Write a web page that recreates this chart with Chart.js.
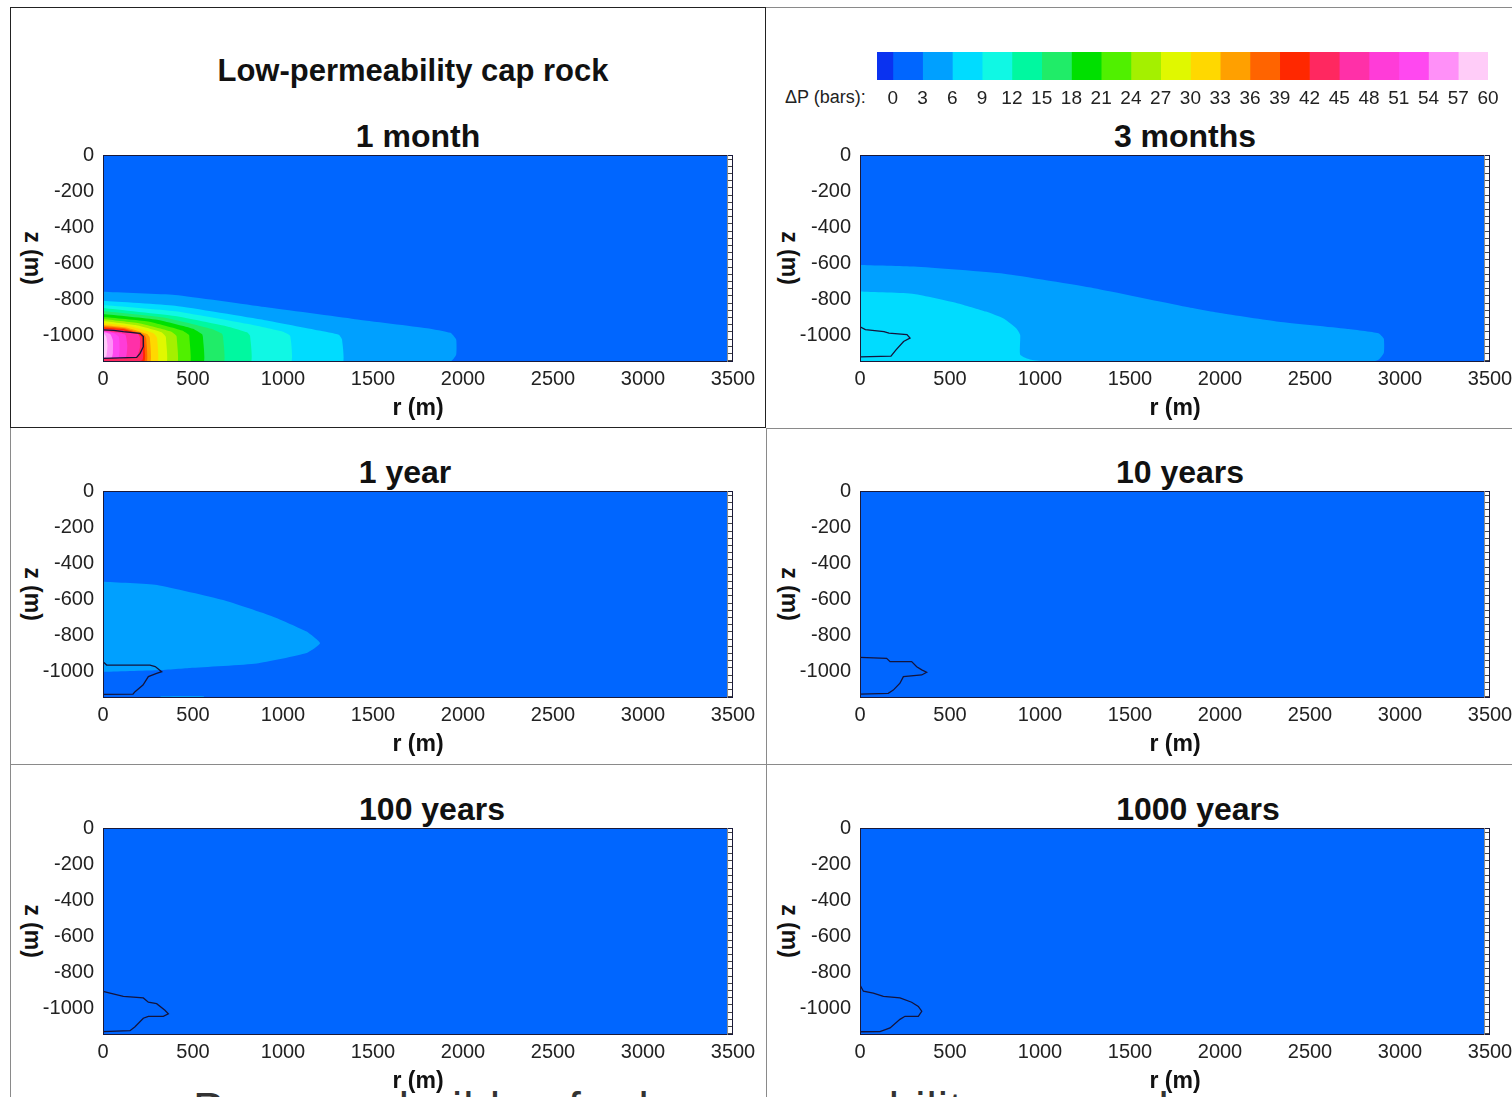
<!DOCTYPE html>
<html><head><meta charset="utf-8">
<script src="https://cdn.jsdelivr.net/npm/chart.js@4.4.1/dist/chart.umd.min.js"></script>
<style>
html,body{margin:0;padding:0;background:#fff;}
body{width:1512px;height:1097px;position:relative;overflow:hidden;font-family:'Liberation Sans',Arial,sans-serif;}
canvas{position:absolute;}
.ln{position:absolute;background:#8a8a8a;}
.title{position:absolute;font-weight:bold;font-size:32px;line-height:32px;color:#111;white-space:nowrap;transform:translateX(-50%);}
.zlab{position:absolute;font-weight:bold;font-size:23px;line-height:23px;color:#111;white-space:nowrap;transform:translate(-50%,-50%) rotate(90deg);}
.cblab{position:absolute;font-size:18px;line-height:20px;color:#222;white-space:nowrap;}
.caption{position:absolute;font-size:46px;line-height:46px;color:#333;white-space:nowrap;letter-spacing:1px;}
</style></head>
<body>
<div class="caption" style="left:193px;top:1086px;">Pressure buildup for low-permeability cap rock</div>

<div style="position:absolute;left:10px;top:7px;width:756px;height:421px;border:1.5px solid #222;box-sizing:border-box;"></div>
<div class="ln" style="left:766px;top:7px;width:746px;height:1px;"></div>
<div class="ln" style="left:766px;top:428px;width:746px;height:1px;"></div>
<div class="ln" style="left:10px;top:764px;width:1502px;height:1px;"></div>
<div class="ln" style="left:766px;top:428px;width:1px;height:669px;"></div>
<div class="ln" style="left:10px;top:428px;width:1px;height:669px;"></div>

<div class="title" style="left:413px;top:55px;font-size:31px;">Low-permeability cap rock</div>
<div class="cblab" style="left:785px;top:87px;">ΔP (bars):</div>

<div class="title" style="left:418px;top:120px;">1 month</div>
<div class="title" style="left:1185px;top:120px;">3 months</div>
<div class="title" style="left:405px;top:456px;">1 year</div>
<div class="title" style="left:1180px;top:456px;">10 years</div>
<div class="title" style="left:432px;top:793px;">100 years</div>
<div class="title" style="left:1198px;top:793px;">1000 years</div>

<div class="zlab" style="left:32px;top:258px;">z (m)</div>
<div class="zlab" style="left:789px;top:258px;">z (m)</div>
<div class="zlab" style="left:32px;top:594px;">z (m)</div>
<div class="zlab" style="left:789px;top:594px;">z (m)</div>
<div class="zlab" style="left:32px;top:931px;">z (m)</div>
<div class="zlab" style="left:789px;top:931px;">z (m)</div>

<canvas id="cb" width="650" height="65" style="left:860px;top:45px;"></canvas>
<canvas id="p1" width="751" height="288" style="left:12px;top:134px;"></canvas>
<canvas id="p2" width="751" height="288" style="left:769px;top:134px;"></canvas>
<canvas id="p3" width="751" height="288" style="left:12px;top:470px;"></canvas>
<canvas id="p4" width="751" height="288" style="left:769px;top:470px;"></canvas>
<canvas id="p5" width="751" height="288" style="left:12px;top:807px;"></canvas>
<canvas id="p6" width="751" height="288" style="left:769px;top:807px;"></canvas>

<script>
// ---------- DATA ----------
const rTicks = [0, 500, 1000, 1500, 2000, 2500, 3000, 3500];
const zTicks = [0, -200, -400, -600, -800, -1000];
const colorbarTicks = [0,3,6,9,12,15,18,21,24,27,30,33,36,39,42,45,48,51,54,57,60];
const colorbarEdges = [-1.6,0,3,6,9,12,15,18,21,24,27,30,33,36,39,42,45,48,51,54,57,60];
const colorbarColors = ['#0a32f0','#0066ff','#00a0ff','#00dcff','#10f8e4','#00f8a0','#20ec68','#00e000',
  '#50f000','#a4f000','#e0f800','#ffd800','#ffa000','#ff6400','#ff2800','#ff2860','#ff30a8',
  '#ff3cd8','#ff48f0','#ff90f8','#ffccf8'];

// pressure contour levels (bars) and region boundaries [r (m), z (m)] for each time
const month1Levels = [3,6,9,12,15,18,21,24,27,30,33,36,39,42,45,48,51,54,57];
const month1Contours = [
  [[0,-760],[400,-778],[900,-845],[1400,-912],[1800,-962],[1930,-988],[1962,-1025],[1962,-1110],[1935,-1145],[1850,-1160],[0,-1160]],
  [[0,-810],[400,-838],[900,-918],[1200,-975],[1310,-998],[1328,-1025],[1328,-1160],[0,-1160]],
  [[0,-833],[400,-868],[800,-938],[1000,-982],[1040,-1005],[1040,-1160],[0,-1160]],
  [[0,-850],[400,-895],[700,-955],[800,-985],[817,-1005],[817,-1160],[0,-1160]],
  [[0,-867],[350,-905],[600,-965],[660,-992],[667,-1010],[667,-1160],[0,-1160]],
  [[0,-883],[300,-915],[500,-965],[550,-995],[555,-1010],[555,-1160],[0,-1160]],
  [[0,-900],[250,-925],[440,-975],[478,-1000],[480,-1015],[480,-1160],[0,-1160]],
  [[0,-911],[200,-935],[380,-982],[408,-1005],[410,-1020],[410,-1160],[0,-1160]],
  [[0,-922],[180,-945],[325,-985],[348,-1008],[350,-1020],[350,-1160],[0,-1160]],
  [[0,-933],[150,-952],[280,-990],[300,-1015],[300,-1160],[0,-1160]],
  [[0,-944],[130,-958],[245,-995],[260,-1015],[260,-1160],[0,-1160]],
  [[0,-952],[120,-963],[230,-1000],[240,-1020],[240,-1160],[0,-1160]],
  [[0,-958],[110,-967],[218,-1000],[228,-1020],[228,-1150],[0,-1160]],
  [[0,-965],[100,-972],[210,-1003],[218,-1025],[218,-1140],[0,-1160]],
  [[0,-975],[100,-985],[195,-995],[205,-1015],[205,-1070],[195,-1105],[180,-1127],[0,-1127]],
  [[0,-978],[80,-988],[125,-1000],[135,-1060],[125,-1127],[0,-1127]],
  [[0,-980],[60,-990],[88,-1010],[92,-1080],[85,-1127],[0,-1127]],
  [[0,-982],[40,-995],[55,-1030],[55,-1100],[48,-1127],[0,-1127]],
  [[0,-985],[18,-1010],[25,-1060],[18,-1120],[0,-1127]]
];
const month1Plume = [[0,-972],[60,-974],[113,-981],[206,-991],[224,-1009],[224,-1065],[206,-1102],[187,-1124],[0,-1130]];

const month3Levels = [3,6];
const month3Contours = [
  [[0,-611],[300,-620],[800,-660],[1300,-740],[1810,-843],[2000,-878],[2325,-926],[2700,-965],[2880,-990],[2910,-1020],[2910,-1100],[2880,-1138],[2800,-1160],[0,-1160]],
  [[0,-759],[300,-772],[540,-823],[700,-870],[800,-910],[870,-965],[890,-1000],[890,-1110],[950,-1138],[1155,-1160],[0,-1160]]
];
const month3Plume = [[0,-954],[30,-970],[133,-981],[161,-990],[261,-998],[278,-1017],[242,-1036],[200,-1083],[172,-1117],[0,-1122]];

const year1Levels = [3,3];
const year1Contours = [
  [[0,-504],[300,-522],[667,-606],[945,-698],[1131,-781],[1206,-846],[1131,-900],[854,-958],[483,-983],[298,-996],[0,-1005]],
  [[320,-1140],[560,-1140],[560,-1160],[320,-1160]]
];
const year1Plume = [[0,-948],[20,-967],[261,-967],[290,-975],[326,-1004],[298,-1013],[252,-1031],[222,-1078],[178,-1115],[167,-1128],[0,-1130]];

const year10Plume = [[0,-924],[148,-930],[167,-948],[287,-948],[315,-976],[343,-994],[370,-1007],[343,-1022],[241,-1031],[222,-1068],[185,-1106],[157,-1124],[0,-1128]];
const year100Plume = [[0,-907],[39,-917],[113,-935],[224,-944],[252,-968],[298,-976],[344,-1013],[363,-1032],[335,-1046],[252,-1046],[224,-1057],[178,-1104],[150,-1126],[0,-1131]];
const year1000Plume = [[0,-872],[19,-907],[74,-917],[130,-935],[222,-944],[287,-968],[324,-991],[343,-1018],[324,-1046],[250,-1046],[222,-1063],[167,-1111],[111,-1131],[0,-1132]];

const meshStrip = [3467, 3500];
// ---------- END DATA ----------

const tickFont = "'Liberation Sans',Arial,sans-serif";
const bgColor = colorbarColors[1];
function levelColor(l){ return colorbarColors[Math.round(l/3)+1]; }

const framePlugin = {
  id: 'frame',
  beforeDatasetsDraw(chart){
    const {ctx, chartArea:a} = chart;
    ctx.save(); ctx.fillStyle = bgColor; ctx.fillRect(a.left, a.top, a.width, a.height); ctx.restore();
  },
  afterDatasetsDraw(chart){
    const {ctx, chartArea:a, scales:{x, y}} = chart;
    ctx.save();
    const x0 = x.getPixelForValue(meshStrip[0]), x1 = x.getPixelForValue(meshStrip[1]);
    ctx.fillStyle = '#fff'; ctx.fillRect(x0, a.top, x1 - x0, a.height);
    ctx.strokeStyle = '#444'; ctx.lineWidth = 1;
    for (let z = -20; z > y.min; z -= 40) {
      const py = Math.round(y.getPixelForValue(z)) + 0.5;
      ctx.beginPath(); ctx.moveTo(x0, py); ctx.lineTo(x1 - 1, py); ctx.stroke();
    }
    ctx.strokeStyle = '#1a1a3a';
    ctx.strokeRect(a.left + 0.5, a.top + 0.5, a.width - 1, a.height - 1);
    ctx.beginPath(); ctx.moveTo(x0 + 0.5, a.top); ctx.lineTo(x0 + 0.5, a.bottom); ctx.strokeStyle = '#888'; ctx.stroke();
    ctx.restore();
  }
};

function pts(arr){ return arr.map(([x, y]) => ({x, y})); }

function makePanel(id, levels, contours, plume){
  const ds = [];
  ds.push({data: pts(plume), showLine: true, fill: false, borderColor: '#14143c', borderWidth: 1.3, pointRadius: 0, tension: 0});
  for (let i = contours.length - 1; i >= 0; i--) {
    const c = levelColor(levels[i]);
    ds.push({data: pts(contours[i]), showLine: true, fill: 'shape', backgroundColor: c, borderColor: 'rgba(0,0,0,0)', borderWidth: 0, pointRadius: 0, tension: 0.15});
  }
  new Chart(document.getElementById(id), {
    type: 'scatter',
    data: {datasets: ds},
    options: {
      responsive: false, animation: false, devicePixelRatio: 1,
      layout: {padding: {top: 0, right: 30, left: 0, bottom: 0}},
      plugins: {legend: {display: false}, tooltip: {enabled: false}},
      elements: {point: {radius: 0}},
      scales: {
        x: {
          type: 'linear', min: 0, max: 3500,
          grid: {display: false, drawTicks: false}, border: {display: false},
          ticks: {padding: 5, color: '#222', font: {family: tickFont, size: 20}, maxRotation: 0, autoSkip: false, callback: v => String(v)},
          afterBuildTicks: s => { s.ticks = rTicks.map(v => ({value: v})); },
          afterFit: s => { s.height = 60; },
          title: {display: true, text: 'r (m)', color: '#111', font: {family: "'Liberation Sans',Arial,sans-serif", size: 23, weight: 'bold'}, padding: {top: 0, bottom: 0}}
        },
        y: {
          type: 'linear', min: -1150, max: 0,
          grid: {display: false, drawTicks: false}, border: {display: false},
          ticks: {padding: 9, color: '#222', font: {family: tickFont, size: 20}, autoSkip: false, callback: v => String(v)},
          afterBuildTicks: s => { s.ticks = zTicks.map(v => ({value: v})); },
          afterFit: s => { s.width = 91; }
        }
      }
    },
    plugins: [framePlugin]
  });
}

makePanel('p1', month1Levels, month1Contours, month1Plume);
makePanel('p2', month3Levels, month3Contours, month3Plume);
makePanel('p3', year1Levels, year1Contours, year1Plume);
makePanel('p4', [], [], year10Plume);
makePanel('p5', [], [], year100Plume);
makePanel('p6', [], [], year1000Plume);

new Chart(document.getElementById('cb'), {
  type: 'bar',
  data: {
    labels: ['ΔP'],
    datasets: colorbarColors.map((c, i) => ({
      data: [[colorbarEdges[i], colorbarEdges[i + 1]]],
      backgroundColor: c, borderWidth: 0, barPercentage: 1, categoryPercentage: 1, grouped: false
    }))
  },
  options: {
    indexAxis: 'y', responsive: false, animation: false, devicePixelRatio: 1,
    layout: {padding: {left: 17, right: 22, top: 7, bottom: 0}},
    plugins: {legend: {display: false}, tooltip: {enabled: false}},
    scales: {
      x: {
        type: 'linear', min: -1.6, max: 60,
        grid: {display: false, drawTicks: false}, border: {display: false},
        ticks: {padding: 7, color: '#222', font: {family: tickFont, size: 19}, maxRotation: 0, autoSkip: false, callback: v => String(v)},
        afterBuildTicks: s => { s.ticks = colorbarTicks.map(v => ({value: v})); },
        afterFit: s => { s.height = 30; }
      },
      y: {display: false}
    }
  }
});
</script>
</body></html>
